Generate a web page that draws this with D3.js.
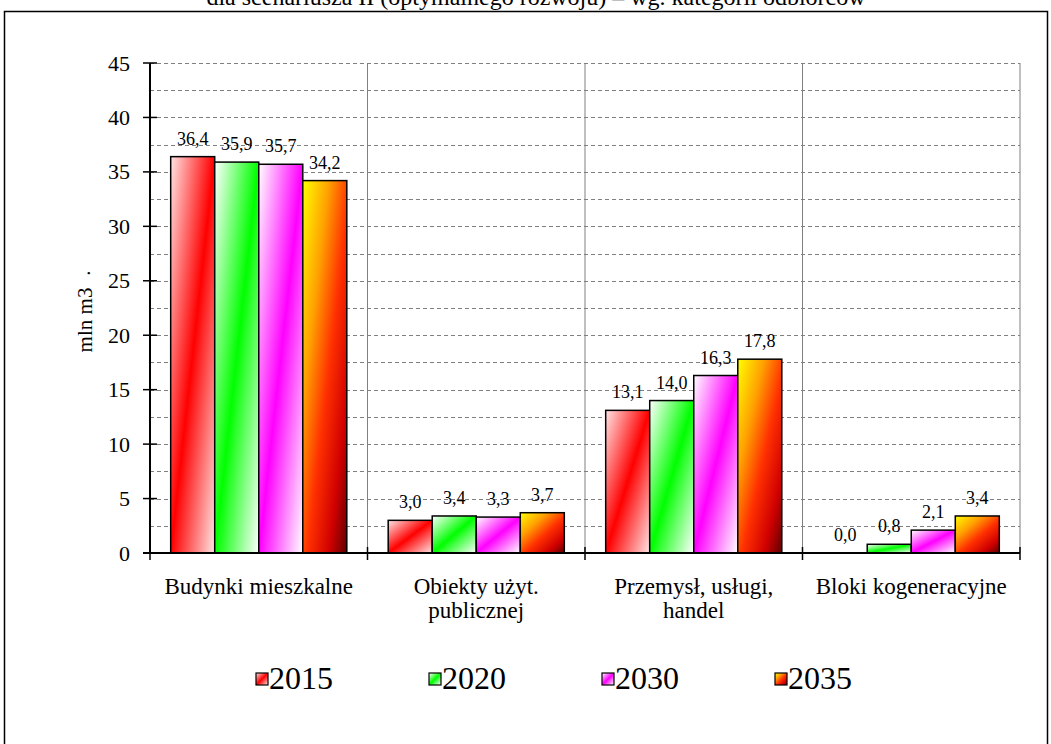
<!DOCTYPE html>
<html><head><meta charset="utf-8">
<script src="https://cdn.jsdelivr.net/npm/d3@7"></script>
<style>
html,body{margin:0;padding:0;background:#fff;overflow:hidden}
svg text{font-family:"Liberation Serif","Tinos","Times New Roman","DejaVu Serif","Noto Serif",serif;fill:#000}
</style></head>
<body>
<svg id="chart" width="1051" height="744"></svg>
<script>
const categories = [["Budynki mieszkalne"], ["Obiekty użyt.", "publicznej"], ["Przemysł, usługi,", "handel"], ["Bloki kogeneracyjne"]];
const seriesNames = ["2015", "2020", "2030", "2035"];
const values2015 = [36.4, 3.0, 13.1, 0.0];
const values2020 = [35.9, 3.4, 14.0, 0.8];
const values2030 = [35.7, 3.3, 16.3, 2.1];
const values2035 = [34.2, 3.7, 17.8, 3.4];
const yTicks = [0, 5, 10, 15, 20, 25, 30, 35, 40, 45];
const gridValues = [2.5, 5, 7.5, 10, 12.5, 15, 17.5, 20, 22.5, 25, 27.5, 30, 32.5, 35, 37.5, 40, 42.5, 45];
const titleText = "dla scenariusza II (optymalnego rozwoju) – wg. kategorii odbiorców";
const yLabel = "mln m3";

(function () {
const FONT = '"Liberation Serif","Tinos","Times New Roman","DejaVu Serif","Noto Serif",serif';
const seriesValues = [values2015, values2020, values2030, values2035];
const gradStops = [
  [["0", "#ffe4e4"], ["0.5", "#ff0000"], ["1", "#ffe4e4"]],
  [["0", "#ffffff"], ["0.5", "#00ff00"], ["1", "#ffffff"]],
  [["0", "#ffffff"], ["0.5", "#ff00ff"], ["1", "#ffffff"]],
  [["0", "#ffff00"], ["0.3", "#ffa000"], ["0.55", "#ff3000"], ["0.8", "#d00000"], ["1", "#600000"]]
];

const svg = d3.select("#chart").style("font-family", FONT);
const defs = svg.append("defs");
gradStops.forEach((stops, i) => {
  const g = defs.append("linearGradient").attr("id", "g" + i)
    .attr("x1", 0).attr("y1", 0).attr("x2", 1).attr("y2", 1);
  stops.forEach(s => g.append("stop").attr("offset", s[0]).attr("stop-color", s[1]));
});

svg.append("rect").attr("x", 4.5).attr("y", 11.5).attr("width", 1043).attr("height", 760)
  .attr("fill", "none").attr("stroke", "#000").attr("stroke-width", 1.5);

svg.append("text").attr("x", 536).attr("y", 5).attr("text-anchor", "middle")
  .style("font-size", "24px").style("font-family", FONT).text(titleText);

const pL = 150, pR = 1020, pT = 63, pB = 553;
const y = d3.scaleLinear().domain([0, 45]).range([pB, pT]);
const x0 = d3.scaleBand().domain(d3.range(categories.length)).range([pL, pR]).padding(0);
const x1 = d3.scaleBand().domain(d3.range(seriesNames.length)).range([0, x0.bandwidth()]).paddingInner(0).paddingOuter(0.47);

svg.append("g").selectAll("line").data(gridValues).join("line")
  .attr("x1", pL).attr("x2", pR)
  .attr("y1", d => Math.round(y(d)) + 0.5).attr("y2", d => Math.round(y(d)) + 0.5)
  .attr("stroke", "#808080").attr("stroke-width", 1).attr("stroke-dasharray", "4,3");

svg.append("g").selectAll("line").data(d3.range(1, categories.length + 1)).join("line")
  .attr("x1", d => x0(0) + d * x0.bandwidth()).attr("x2", d => x0(0) + d * x0.bandwidth())
  .attr("y1", pT).attr("y2", pB)
  .attr("stroke", "#808080").attr("stroke-width", 1);

const fmt = v => d3.format(".1f")(v).replace(".", ",");
seriesValues.forEach((vals, si) => {
  const g = svg.append("g");
  g.selectAll("rect").data(vals).join("rect")
    .attr("x", (d, ci) => x0(ci) + x1(si))
    .attr("y", d => y(d))
    .attr("width", x1.bandwidth())
    .attr("height", d => pB - y(d))
    .attr("fill", "url(#g" + si + ")")
    .attr("stroke", "#000").attr("stroke-width", 1.5);
  g.selectAll("text").data(vals).join("text")
    .attr("x", (d, ci) => x0(ci) + x1(si) + x1.bandwidth() / 2)
    .attr("y", d => y(d) - 12)
    .attr("text-anchor", "middle").style("font-size", "18px").style("font-family", FONT)
    .text(d => fmt(d));
});

const yAxis = d3.axisLeft(y).tickValues(yTicks).tickSize(0).tickPadding(20).tickFormat(d3.format("d"));
const yg = svg.append("g").attr("transform", `translate(${pL},0)`).call(yAxis);
yg.attr("font-family", null).attr("font-size", null);
yg.select(".domain").remove();
yg.selectAll("text").style("font-size", "22px").style("font-family", FONT);
svg.append("line").attr("x1", pL).attr("x2", pL).attr("y1", pT).attr("y2", pB)
  .attr("stroke", "#000").attr("stroke-width", 2);
svg.append("g").selectAll("line").data(yTicks).join("line")
  .attr("x1", pL - 7).attr("x2", pL + 7)
  .attr("y1", d => y(d)).attr("y2", d => y(d))
  .attr("stroke", "#000").attr("stroke-width", 1.5);

svg.append("line").attr("x1", pL - 7).attr("x2", pR).attr("y1", pB).attr("y2", pB)
  .attr("stroke", "#000").attr("stroke-width", 2);
svg.append("g").selectAll("line").data(d3.range(0, categories.length + 1)).join("line")
  .attr("x1", d => x0(0) + d * x0.bandwidth()).attr("x2", d => x0(0) + d * x0.bandwidth())
  .attr("y1", pB - 6).attr("y2", pB + 7)
  .attr("stroke", "#000").attr("stroke-width", 1.5);

categories.forEach((lines, ci) => {
  const t = svg.append("text").attr("text-anchor", "middle").style("font-size", "23px").style("font-family", FONT)
    .attr("x", x0(ci) + x0.bandwidth() / 2).attr("y", 594);
  lines.forEach((l, li) => t.append("tspan").attr("x", x0(ci) + x0.bandwidth() / 2).attr("dy", li === 0 ? 0 : 24).text(l));
});

svg.append("text").attr("transform", "translate(92,320) rotate(-90)").attr("text-anchor", "middle")
  .style("font-size", "21px").style("font-family", FONT).text(yLabel);
svg.append("text").attr("transform", "translate(90,273) rotate(-90)").attr("text-anchor", "middle")
  .style("font-size", "21px").style("font-family", FONT).text(".");

const legX = d3.scaleBand().domain(seriesNames).range([256, 256 + 173 * 4]);
const lg = svg.append("g").selectAll("g").data(seriesNames).join("g")
  .attr("transform", d => `translate(${legX(d)},679)`);
lg.append("rect").attr("x", 0).attr("y", -6).attr("width", 12).attr("height", 12)
  .attr("fill", (d, i) => "url(#g" + i + ")").attr("stroke", "#000").attr("stroke-width", 1.2);
lg.append("text").attr("x", 13).attr("y", 10).style("font-size", "32px").style("font-family", FONT).text(d => d);
})();
</script>
</body></html>
